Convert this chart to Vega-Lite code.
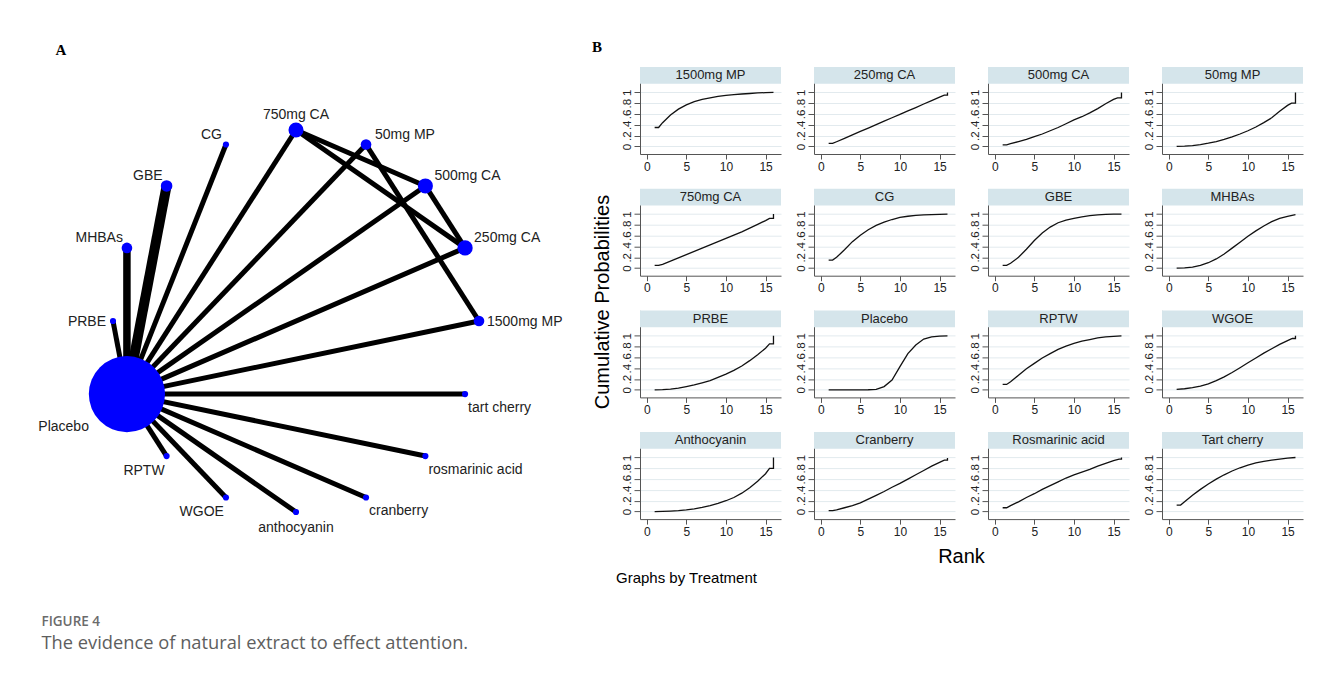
{
"$schema": "https://vega.github.io/schema/vega-lite/v6.json",
"background": "white",
"padding": {"left": 21.5, "top": 40, "right": 0, "bottom": 25},
"title": {"text": "FIGURE 4", "subtitle": "The evidence of natural extract to effect attention.", "orient": "bottom", "anchor": "start", "dx": 20, "offset": 29, "font": "Open Sans", "fontSize": 13.5, "fontWeight": 600, "color": "#6b6b6b", "subtitleFont": "Open Sans", "subtitleFontSize": 18.3, "subtitleColor": "#5e5e5e", "subtitlePadding": 6},
"datasets": {
"nodes": [
{"node":"750mg CA","x":0,"y":1,"n":78},
{"node":"50mg MP","x":0.3827,"y":0.9239,"n":39},
{"node":"500mg CA","x":0.7071,"y":0.7071,"n":78},
{"node":"250mg CA","x":0.9239,"y":0.3827,"n":80},
{"node":"1500mg MP","x":1,"y":0,"n":39},
{"node":"tart cherry","x":0.9239,"y":-0.3827,"n":13},
{"node":"rosmarinic acid","x":0.7071,"y":-0.7071,"n":13},
{"node":"cranberry","x":0.3827,"y":-0.9239,"n":13},
{"node":"anthocyanin","x":0,"y":-1,"n":13},
{"node":"WGOE","x":-0.3827,"y":-0.9239,"n":13},
{"node":"RPTW","x":-0.7071,"y":-0.7071,"n":13},
{"node":"Placebo","x":-0.9239,"y":-0.3827,"n":2000},
{"node":"PRBE","x":-1,"y":0,"n":13},
{"node":"MHBAs","x":-0.9239,"y":0.3827,"n":39},
{"node":"GBE","x":-0.7071,"y":0.7071,"n":46},
{"node":"CG","x":-0.3827,"y":0.9239,"n":13}
],
"edges": [
{"a":"Placebo","b":"PRBE","k":1},{"a":"Placebo","b":"MHBAs","k":2},{"a":"Placebo","b":"GBE","k":3},{"a":"Placebo","b":"CG","k":1},{"a":"Placebo","b":"750mg CA","k":1},{"a":"Placebo","b":"50mg MP","k":1},{"a":"Placebo","b":"500mg CA","k":1},{"a":"Placebo","b":"250mg CA","k":1},{"a":"Placebo","b":"1500mg MP","k":1},{"a":"Placebo","b":"tart cherry","k":1},{"a":"Placebo","b":"rosmarinic acid","k":1},{"a":"Placebo","b":"cranberry","k":1},{"a":"Placebo","b":"anthocyanin","k":1},{"a":"Placebo","b":"WGOE","k":1},{"a":"Placebo","b":"RPTW","k":1},{"a":"750mg CA","b":"500mg CA","k":1},{"a":"750mg CA","b":"250mg CA","k":1},{"a":"500mg CA","b":"250mg CA","k":1},{"a":"50mg MP","b":"1500mg MP","k":1}
],
"curves": [
{"t":"1500mg MP","r":1,"p":0.35},{"t":"1500mg MP","r":1.5,"p":0.35},{"t":"1500mg MP","r":2,"p":0.44},{"t":"1500mg MP","r":3,"p":0.58},{"t":"1500mg MP","r":4,"p":0.69},{"t":"1500mg MP","r":5,"p":0.77},{"t":"1500mg MP","r":6,"p":0.83},{"t":"1500mg MP","r":7,"p":0.87},{"t":"1500mg MP","r":8,"p":0.9},{"t":"1500mg MP","r":9,"p":0.925},{"t":"1500mg MP","r":10,"p":0.945},{"t":"1500mg MP","r":11,"p":0.96},{"t":"1500mg MP","r":12,"p":0.97},{"t":"1500mg MP","r":13,"p":0.98},{"t":"1500mg MP","r":14,"p":0.99},{"t":"1500mg MP","r":15,"p":0.995},{"t":"1500mg MP","r":16,"p":1},
{"t":"250mg CA","r":1,"p":0.055},{"t":"250mg CA","r":1.5,"p":0.055},{"t":"250mg CA","r":2,"p":0.087},{"t":"250mg CA","r":3,"p":0.15},{"t":"250mg CA","r":4,"p":0.214},{"t":"250mg CA","r":5,"p":0.277},{"t":"250mg CA","r":6,"p":0.34},{"t":"250mg CA","r":7,"p":0.404},{"t":"250mg CA","r":8,"p":0.468},{"t":"250mg CA","r":9,"p":0.531},{"t":"250mg CA","r":10,"p":0.595},{"t":"250mg CA","r":11,"p":0.658},{"t":"250mg CA","r":12,"p":0.72},{"t":"250mg CA","r":13,"p":0.785},{"t":"250mg CA","r":14,"p":0.849},{"t":"250mg CA","r":15,"p":0.912},{"t":"250mg CA","r":15.6,"p":0.95},{"t":"250mg CA","r":16,"p":0.95},{"t":"250mg CA","r":16,"p":1},
{"t":"500mg CA","r":1,"p":0.03},{"t":"500mg CA","r":1.5,"p":0.03},{"t":"500mg CA","r":2,"p":0.05},{"t":"500mg CA","r":3,"p":0.09},{"t":"500mg CA","r":4,"p":0.13},{"t":"500mg CA","r":5,"p":0.18},{"t":"500mg CA","r":6,"p":0.23},{"t":"500mg CA","r":7,"p":0.29},{"t":"500mg CA","r":8,"p":0.35},{"t":"500mg CA","r":9,"p":0.42},{"t":"500mg CA","r":10,"p":0.49},{"t":"500mg CA","r":11,"p":0.55},{"t":"500mg CA","r":12,"p":0.62},{"t":"500mg CA","r":13,"p":0.7},{"t":"500mg CA","r":14,"p":0.79},{"t":"500mg CA","r":15,"p":0.87},{"t":"500mg CA","r":15.5,"p":0.9},{"t":"500mg CA","r":16,"p":0.9},{"t":"500mg CA","r":16,"p":1},
{"t":"50mg MP","r":1,"p":0},{"t":"50mg MP","r":2,"p":0.005},{"t":"50mg MP","r":3,"p":0.015},{"t":"50mg MP","r":4,"p":0.035},{"t":"50mg MP","r":5,"p":0.06},{"t":"50mg MP","r":6,"p":0.09},{"t":"50mg MP","r":7,"p":0.13},{"t":"50mg MP","r":8,"p":0.175},{"t":"50mg MP","r":9,"p":0.23},{"t":"50mg MP","r":10,"p":0.29},{"t":"50mg MP","r":11,"p":0.36},{"t":"50mg MP","r":12,"p":0.44},{"t":"50mg MP","r":13,"p":0.53},{"t":"50mg MP","r":14,"p":0.65},{"t":"50mg MP","r":15,"p":0.76},{"t":"50mg MP","r":15.5,"p":0.8},{"t":"50mg MP","r":16,"p":0.8},{"t":"50mg MP","r":16,"p":1},
{"t":"750mg CA","r":1,"p":0.05},{"t":"750mg CA","r":1.5,"p":0.05},{"t":"750mg CA","r":2,"p":0.07},{"t":"750mg CA","r":3,"p":0.13},{"t":"750mg CA","r":4,"p":0.19},{"t":"750mg CA","r":5,"p":0.25},{"t":"750mg CA","r":6,"p":0.31},{"t":"750mg CA","r":7,"p":0.37},{"t":"750mg CA","r":8,"p":0.43},{"t":"750mg CA","r":9,"p":0.49},{"t":"750mg CA","r":10,"p":0.55},{"t":"750mg CA","r":11,"p":0.61},{"t":"750mg CA","r":12,"p":0.67},{"t":"750mg CA","r":13,"p":0.74},{"t":"750mg CA","r":14,"p":0.81},{"t":"750mg CA","r":15,"p":0.88},{"t":"750mg CA","r":15.5,"p":0.92},{"t":"750mg CA","r":16,"p":0.92},{"t":"750mg CA","r":16,"p":1},
{"t":"CG","r":1,"p":0.15},{"t":"CG","r":1.5,"p":0.15},{"t":"CG","r":2,"p":0.2},{"t":"CG","r":3,"p":0.34},{"t":"CG","r":4,"p":0.49},{"t":"CG","r":5,"p":0.61},{"t":"CG","r":6,"p":0.71},{"t":"CG","r":7,"p":0.79},{"t":"CG","r":8,"p":0.85},{"t":"CG","r":9,"p":0.9},{"t":"CG","r":10,"p":0.94},{"t":"CG","r":11,"p":0.96},{"t":"CG","r":12,"p":0.975},{"t":"CG","r":13,"p":0.985},{"t":"CG","r":14,"p":0.99},{"t":"CG","r":15,"p":0.995},{"t":"CG","r":16,"p":1},
{"t":"GBE","r":1,"p":0.05},{"t":"GBE","r":1.5,"p":0.05},{"t":"GBE","r":2,"p":0.09},{"t":"GBE","r":3,"p":0.2},{"t":"GBE","r":4,"p":0.35},{"t":"GBE","r":5,"p":0.51},{"t":"GBE","r":6,"p":0.65},{"t":"GBE","r":7,"p":0.76},{"t":"GBE","r":8,"p":0.84},{"t":"GBE","r":9,"p":0.89},{"t":"GBE","r":10,"p":0.92},{"t":"GBE","r":11,"p":0.95},{"t":"GBE","r":12,"p":0.97},{"t":"GBE","r":13,"p":0.985},{"t":"GBE","r":14,"p":0.995},{"t":"GBE","r":15,"p":1},{"t":"GBE","r":16,"p":1},
{"t":"MHBAs","r":1,"p":0},{"t":"MHBAs","r":2,"p":0.005},{"t":"MHBAs","r":3,"p":0.02},{"t":"MHBAs","r":4,"p":0.05},{"t":"MHBAs","r":5,"p":0.1},{"t":"MHBAs","r":6,"p":0.17},{"t":"MHBAs","r":7,"p":0.26},{"t":"MHBAs","r":8,"p":0.37},{"t":"MHBAs","r":9,"p":0.48},{"t":"MHBAs","r":10,"p":0.59},{"t":"MHBAs","r":11,"p":0.69},{"t":"MHBAs","r":12,"p":0.78},{"t":"MHBAs","r":13,"p":0.86},{"t":"MHBAs","r":14,"p":0.92},{"t":"MHBAs","r":15,"p":0.96},{"t":"MHBAs","r":16,"p":0.99},
{"t":"PRBE","r":1,"p":0},{"t":"PRBE","r":2,"p":0.005},{"t":"PRBE","r":3,"p":0.015},{"t":"PRBE","r":4,"p":0.03},{"t":"PRBE","r":5,"p":0.06},{"t":"PRBE","r":6,"p":0.09},{"t":"PRBE","r":7,"p":0.13},{"t":"PRBE","r":8,"p":0.17},{"t":"PRBE","r":9,"p":0.23},{"t":"PRBE","r":10,"p":0.29},{"t":"PRBE","r":11,"p":0.36},{"t":"PRBE","r":12,"p":0.44},{"t":"PRBE","r":13,"p":0.54},{"t":"PRBE","r":14,"p":0.65},{"t":"PRBE","r":15,"p":0.77},{"t":"PRBE","r":15.5,"p":0.85},{"t":"PRBE","r":16,"p":0.85},{"t":"PRBE","r":16,"p":1},
{"t":"Placebo","r":1,"p":0},{"t":"Placebo","r":2,"p":0},{"t":"Placebo","r":3,"p":0},{"t":"Placebo","r":4,"p":0},{"t":"Placebo","r":5,"p":0},{"t":"Placebo","r":6,"p":0.002},{"t":"Placebo","r":7,"p":0.01},{"t":"Placebo","r":8,"p":0.06},{"t":"Placebo","r":9,"p":0.18},{"t":"Placebo","r":10,"p":0.43},{"t":"Placebo","r":11,"p":0.67},{"t":"Placebo","r":12,"p":0.83},{"t":"Placebo","r":13,"p":0.94},{"t":"Placebo","r":14,"p":0.98},{"t":"Placebo","r":15,"p":0.995},{"t":"Placebo","r":16,"p":1},
{"t":"RPTW","r":1,"p":0.1},{"t":"RPTW","r":1.5,"p":0.1},{"t":"RPTW","r":2,"p":0.15},{"t":"RPTW","r":3,"p":0.27},{"t":"RPTW","r":4,"p":0.39},{"t":"RPTW","r":5,"p":0.49},{"t":"RPTW","r":6,"p":0.59},{"t":"RPTW","r":7,"p":0.67},{"t":"RPTW","r":8,"p":0.75},{"t":"RPTW","r":9,"p":0.81},{"t":"RPTW","r":10,"p":0.86},{"t":"RPTW","r":11,"p":0.9},{"t":"RPTW","r":12,"p":0.93},{"t":"RPTW","r":13,"p":0.96},{"t":"RPTW","r":14,"p":0.98},{"t":"RPTW","r":15,"p":0.99},{"t":"RPTW","r":16,"p":1},
{"t":"WGOE","r":1,"p":0.01},{"t":"WGOE","r":2,"p":0.02},{"t":"WGOE","r":3,"p":0.04},{"t":"WGOE","r":4,"p":0.07},{"t":"WGOE","r":5,"p":0.11},{"t":"WGOE","r":6,"p":0.17},{"t":"WGOE","r":7,"p":0.24},{"t":"WGOE","r":8,"p":0.32},{"t":"WGOE","r":9,"p":0.41},{"t":"WGOE","r":10,"p":0.5},{"t":"WGOE","r":11,"p":0.59},{"t":"WGOE","r":12,"p":0.68},{"t":"WGOE","r":13,"p":0.76},{"t":"WGOE","r":14,"p":0.84},{"t":"WGOE","r":15,"p":0.91},{"t":"WGOE","r":15.6,"p":0.95},{"t":"WGOE","r":16,"p":0.95},{"t":"WGOE","r":16,"p":1},
{"t":"Anthocyanin","r":1,"p":0},{"t":"Anthocyanin","r":2,"p":0.002},{"t":"Anthocyanin","r":3,"p":0.007},{"t":"Anthocyanin","r":4,"p":0.015},{"t":"Anthocyanin","r":5,"p":0.03},{"t":"Anthocyanin","r":6,"p":0.05},{"t":"Anthocyanin","r":7,"p":0.075},{"t":"Anthocyanin","r":8,"p":0.11},{"t":"Anthocyanin","r":9,"p":0.15},{"t":"Anthocyanin","r":10,"p":0.2},{"t":"Anthocyanin","r":11,"p":0.26},{"t":"Anthocyanin","r":12,"p":0.34},{"t":"Anthocyanin","r":13,"p":0.44},{"t":"Anthocyanin","r":14,"p":0.56},{"t":"Anthocyanin","r":15,"p":0.7},{"t":"Anthocyanin","r":15.5,"p":0.8},{"t":"Anthocyanin","r":16,"p":0.8},{"t":"Anthocyanin","r":16,"p":1},
{"t":"Cranberry","r":1,"p":0.015},{"t":"Cranberry","r":1.5,"p":0.015},{"t":"Cranberry","r":2,"p":0.03},{"t":"Cranberry","r":3,"p":0.07},{"t":"Cranberry","r":4,"p":0.11},{"t":"Cranberry","r":5,"p":0.16},{"t":"Cranberry","r":6,"p":0.23},{"t":"Cranberry","r":7,"p":0.3},{"t":"Cranberry","r":8,"p":0.37},{"t":"Cranberry","r":9,"p":0.45},{"t":"Cranberry","r":10,"p":0.52},{"t":"Cranberry","r":11,"p":0.6},{"t":"Cranberry","r":12,"p":0.68},{"t":"Cranberry","r":13,"p":0.76},{"t":"Cranberry","r":14,"p":0.84},{"t":"Cranberry","r":15,"p":0.91},{"t":"Cranberry","r":15.6,"p":0.95},{"t":"Cranberry","r":16,"p":0.95},{"t":"Cranberry","r":16,"p":0.99},
{"t":"Rosmarinic acid","r":1,"p":0.07},{"t":"Rosmarinic acid","r":1.5,"p":0.07},{"t":"Rosmarinic acid","r":2,"p":0.11},{"t":"Rosmarinic acid","r":3,"p":0.18},{"t":"Rosmarinic acid","r":4,"p":0.26},{"t":"Rosmarinic acid","r":5,"p":0.33},{"t":"Rosmarinic acid","r":6,"p":0.41},{"t":"Rosmarinic acid","r":7,"p":0.48},{"t":"Rosmarinic acid","r":8,"p":0.55},{"t":"Rosmarinic acid","r":9,"p":0.62},{"t":"Rosmarinic acid","r":10,"p":0.68},{"t":"Rosmarinic acid","r":11,"p":0.73},{"t":"Rosmarinic acid","r":12,"p":0.78},{"t":"Rosmarinic acid","r":13,"p":0.84},{"t":"Rosmarinic acid","r":14,"p":0.89},{"t":"Rosmarinic acid","r":15,"p":0.94},{"t":"Rosmarinic acid","r":15.7,"p":0.97},{"t":"Rosmarinic acid","r":16,"p":0.97},{"t":"Rosmarinic acid","r":16,"p":1},
{"t":"Tart cherry","r":1,"p":0.12},{"t":"Tart cherry","r":1.5,"p":0.12},{"t":"Tart cherry","r":2,"p":0.18},{"t":"Tart cherry","r":3,"p":0.3},{"t":"Tart cherry","r":4,"p":0.41},{"t":"Tart cherry","r":5,"p":0.51},{"t":"Tart cherry","r":6,"p":0.6},{"t":"Tart cherry","r":7,"p":0.68},{"t":"Tart cherry","r":8,"p":0.75},{"t":"Tart cherry","r":9,"p":0.81},{"t":"Tart cherry","r":10,"p":0.86},{"t":"Tart cherry","r":11,"p":0.9},{"t":"Tart cherry","r":12,"p":0.93},{"t":"Tart cherry","r":13,"p":0.95},{"t":"Tart cherry","r":14,"p":0.97},{"t":"Tart cherry","r":15,"p":0.99},{"t":"Tart cherry","r":16,"p":1}
]
},
"spacing": 20.5,
"hconcat": [
{
"title": {"text": "A", "anchor": "start", "font": "Liberation Serif", "fontWeight": "bold", "fontSize": 15, "color": "#000", "offset": 9.2, "dx": 34},
"width": 549, "height": 483.2,
"layer": [
{"data": {"name": "edges"},
 "transform": [
  {"lookup": "a", "from": {"data": {"name": "nodes"}, "key": "node", "fields": ["x", "y"]}, "as": ["ax", "ay"]},
  {"lookup": "b", "from": {"data": {"name": "nodes"}, "key": "node", "fields": ["x", "y"]}, "as": ["bx", "by"]}
 ],
 "mark": {"type": "rule", "color": "#000000", "strokeCap": "butt"},
 "encoding": {
  "x": {"field": "ax", "type": "quantitative", "scale": {"domain": [-1.5, 1.5], "nice": false, "zero": false}, "axis": null},
  "y": {"field": "ay", "type": "quantitative", "scale": {"domain": [-1.2, 1.3298], "nice": false, "zero": false}, "axis": null},
  "x2": {"field": "bx"}, "y2": {"field": "by"},
  "strokeWidth": {"field": "k", "type": "quantitative", "scale": {"domain": [1, 3], "range": [5, 10], "zero": false}, "legend": null}
 }},
{"data": {"name": "nodes"},
 "mark": {"type": "circle", "color": "#0000ff", "opacity": 1},
 "encoding": {
  "x": {"field": "x", "type": "quantitative", "scale": {"domain": [-1.5, 1.5], "nice": false, "zero": false}, "axis": null},
  "y": {"field": "y", "type": "quantitative", "scale": {"domain": [-1.2, 1.3298], "nice": false, "zero": false}, "axis": null},
  "size": {"field": "n", "type": "quantitative", "scale": {"domain": [0, 2000], "range": [0, 5809]}, "legend": null}
 }},
{"data": {"name": "nodes"}, "transform": [{"filter": "datum.y > 0.99"}],
 "mark": {"type": "text", "font": "Liberation Sans", "fontSize": 14, "color": "#222", "align": "center", "baseline": "middle", "dy": -15},
 "encoding": {"x": {"field": "x", "type": "quantitative", "scale": {"domain": [-1.5, 1.5], "nice": false, "zero": false}, "axis": null}, "y": {"field": "y", "type": "quantitative", "scale": {"domain": [-1.2, 1.3298], "nice": false, "zero": false}, "axis": null}, "text": {"field": "node"}}},
{"data": {"name": "nodes"}, "transform": [{"filter": "datum.x > 0.3 && datum.y > 0.3"}],
 "mark": {"type": "text", "font": "Liberation Sans", "fontSize": 14, "color": "#222", "align": "left", "baseline": "middle", "dx": 9, "dy": -10},
 "encoding": {"x": {"field": "x", "type": "quantitative", "scale": {"domain": [-1.5, 1.5], "nice": false, "zero": false}, "axis": null}, "y": {"field": "y", "type": "quantitative", "scale": {"domain": [-1.2, 1.3298], "nice": false, "zero": false}, "axis": null}, "text": {"field": "node"}}},
{"data": {"name": "nodes"}, "transform": [{"filter": "datum.x > 0.99"}],
 "mark": {"type": "text", "font": "Liberation Sans", "fontSize": 14, "color": "#222", "align": "left", "baseline": "middle", "dx": 8, "dy": 1},
 "encoding": {"x": {"field": "x", "type": "quantitative", "scale": {"domain": [-1.5, 1.5], "nice": false, "zero": false}, "axis": null}, "y": {"field": "y", "type": "quantitative", "scale": {"domain": [-1.2, 1.3298], "nice": false, "zero": false}, "axis": null}, "text": {"field": "node"}}},
{"data": {"name": "nodes"}, "transform": [{"filter": "datum.x > 0.3 && datum.y < -0.3"}],
 "mark": {"type": "text", "font": "Liberation Sans", "fontSize": 14, "color": "#222", "align": "left", "baseline": "middle", "dx": 3, "dy": 14},
 "encoding": {"x": {"field": "x", "type": "quantitative", "scale": {"domain": [-1.5, 1.5], "nice": false, "zero": false}, "axis": null}, "y": {"field": "y", "type": "quantitative", "scale": {"domain": [-1.2, 1.3298], "nice": false, "zero": false}, "axis": null}, "text": {"field": "node"}}},
{"data": {"name": "nodes"}, "transform": [{"filter": "datum.y < -0.99"}],
 "mark": {"type": "text", "font": "Liberation Sans", "fontSize": 14, "color": "#222", "align": "center", "baseline": "middle", "dy": 16},
 "encoding": {"x": {"field": "x", "type": "quantitative", "scale": {"domain": [-1.5, 1.5], "nice": false, "zero": false}, "axis": null}, "y": {"field": "y", "type": "quantitative", "scale": {"domain": [-1.2, 1.3298], "nice": false, "zero": false}, "axis": null}, "text": {"field": "node"}}},
{"data": {"name": "nodes"}, "transform": [{"filter": "datum.x < -0.3 && datum.y < -0.3 && datum.node != 'Placebo'"}],
 "mark": {"type": "text", "font": "Liberation Sans", "fontSize": 14, "color": "#222", "align": "right", "baseline": "middle", "dx": -2, "dy": 15},
 "encoding": {"x": {"field": "x", "type": "quantitative", "scale": {"domain": [-1.5, 1.5], "nice": false, "zero": false}, "axis": null}, "y": {"field": "y", "type": "quantitative", "scale": {"domain": [-1.2, 1.3298], "nice": false, "zero": false}, "axis": null}, "text": {"field": "node"}}},
{"data": {"name": "nodes"}, "transform": [{"filter": "datum.node == 'Placebo'"}],
 "mark": {"type": "text", "font": "Liberation Sans", "fontSize": 14, "color": "#222", "align": "right", "baseline": "middle", "dx": -38, "dy": 33},
 "encoding": {"x": {"field": "x", "type": "quantitative", "scale": {"domain": [-1.5, 1.5], "nice": false, "zero": false}, "axis": null}, "y": {"field": "y", "type": "quantitative", "scale": {"domain": [-1.2, 1.3298], "nice": false, "zero": false}, "axis": null}, "text": {"field": "node"}}},
{"data": {"name": "nodes"}, "transform": [{"filter": "datum.x < -0.99"}],
 "mark": {"type": "text", "font": "Liberation Sans", "fontSize": 14, "color": "#222", "align": "right", "baseline": "middle", "dx": -7, "dy": 1},
 "encoding": {"x": {"field": "x", "type": "quantitative", "scale": {"domain": [-1.5, 1.5], "nice": false, "zero": false}, "axis": null}, "y": {"field": "y", "type": "quantitative", "scale": {"domain": [-1.2, 1.3298], "nice": false, "zero": false}, "axis": null}, "text": {"field": "node"}}},
{"data": {"name": "nodes"}, "transform": [{"filter": "datum.x < -0.3 && datum.y > 0.3"}],
 "mark": {"type": "text", "font": "Liberation Sans", "fontSize": 14, "color": "#222", "align": "right", "baseline": "middle", "dx": -4, "dy": -10},
 "encoding": {"x": {"field": "x", "type": "quantitative", "scale": {"domain": [-1.5, 1.5], "nice": false, "zero": false}, "axis": null}, "y": {"field": "y", "type": "quantitative", "scale": {"domain": [-1.2, 1.3298], "nice": false, "zero": false}, "axis": null}, "text": {"field": "node"}}}
]
},
{
"title": {"text": "B", "anchor": "start", "font": "Liberation Serif", "fontWeight": "bold", "fontSize": 15, "color": "#000", "offset": 12, "dx": -1},
"vconcat": [
{
"title": {"text": "Graphs by Treatment", "orient": "bottom", "anchor": "start", "font": "Liberation Sans", "fontWeight": "normal", "fontSize": 15, "color": "#000", "offset": 4, "dx": 23},
"vconcat": [
{
"title": {"text": "Rank", "orient": "bottom", "anchor": "middle", "font": "Liberation Sans", "fontWeight": "normal", "fontSize": 20, "color": "#000", "offset": 10, "dx": 13.5},
"vconcat": [
{
"title": {"text": "Cumulative Probabilities", "orient": "left", "anchor": "middle", "font": "Liberation Sans", "fontWeight": "normal", "fontSize": 20, "color": "#000", "offset": 8},
"data": {"name": "curves"},
"facet": {"field": "t", "type": "nominal", "sort": ["1500mg MP","250mg CA","500mg CA","50mg MP","750mg CA","CG","GBE","MHBAs","PRBE","Placebo","RPTW","WGOE","Anthocyanin","Cranberry","Rosmarinic acid","Tart cherry"], "header": {"labels": false, "title": null, "labelExpr": "''", "labelFontSize": 0, "labelPadding": 0, "titlePadding": 0}},
"columns": 4,
"spacing": {"row": 16.7, "column": 13},
"resolve": {"axis": {"x": "independent", "y": "independent"}},
"spec": {
"width": 141, "height": 87,
"layer": [
{"transform": [{"filter": "datum.r == 1"}],
 "mark": {"type": "rect", "color": "#D5E5EB"},
 "encoding": {
  "y": {"datum": 1.16, "type": "quantitative", "scale": {"domain": [-0.14, 1.47], "nice": false, "zero": false}, "axis": {"title": null, "values": [0, 0.2, 0.4, 0.6, 0.8, 1], "labelExpr": "datum.value == 0 ? '0' : datum.value == 1 ? '1' : replace(format(datum.value, '.1f'), '0.', '.')", "labelAngle": 270, "labelAlign": "center", "labelBaseline": "bottom", "labelFontSize": 11.5, "labelFont": "Liberation Sans", "labelColor": "#222", "labelPadding": 2, "labelOverlap": false, "tickSize": 6, "tickColor": "#555", "domainColor": "#555", "grid": true, "gridColor": "#E2EAEE"}},
  "y2": {"datum": 1.47}
 }},
{"transform": [{"filter": "datum.r == 1"}],
 "mark": {"type": "text", "font": "Liberation Sans", "fontSize": 13, "color": "#222", "align": "center", "baseline": "middle"},
 "encoding": {
  "y": {"datum": 1.315, "type": "quantitative", "scale": {"domain": [-0.14, 1.47], "nice": false, "zero": false}, "axis": {"title": null, "values": [0, 0.2, 0.4, 0.6, 0.8, 1], "labelExpr": "datum.value == 0 ? '0' : datum.value == 1 ? '1' : replace(format(datum.value, '.1f'), '0.', '.')", "labelAngle": 270, "labelAlign": "center", "labelBaseline": "bottom", "labelFontSize": 11.5, "labelFont": "Liberation Sans", "labelColor": "#222", "labelPadding": 2, "labelOverlap": false, "tickSize": 6, "tickColor": "#555", "domainColor": "#555", "grid": true, "gridColor": "#E2EAEE"}},
  "text": {"field": "t"}
 }},
{"mark": {"type": "line", "color": "#111", "strokeWidth": 1.3},
 "encoding": {
  "x": {"field": "r", "type": "quantitative", "scale": {"domain": [-0.85, 16.95], "nice": false, "zero": false}, "axis": {"title": null, "values": [0, 5, 10, 15], "grid": false, "tickSize": 5, "labelPadding": 2, "labelFontSize": 12, "labelFont": "Liberation Sans", "labelColor": "#222", "tickColor": "#555", "domainColor": "#555"}},
  "y": {"field": "p", "type": "quantitative", "scale": {"domain": [-0.14, 1.47], "nice": false, "zero": false}, "axis": {"title": null, "values": [0, 0.2, 0.4, 0.6, 0.8, 1], "labelExpr": "datum.value == 0 ? '0' : datum.value == 1 ? '1' : replace(format(datum.value, '.1f'), '0.', '.')", "labelAngle": 270, "labelAlign": "center", "labelBaseline": "bottom", "labelFontSize": 11.5, "labelFont": "Liberation Sans", "labelColor": "#222", "labelPadding": 2, "labelOverlap": false, "tickSize": 6, "tickColor": "#555", "domainColor": "#555", "grid": true, "gridColor": "#E2EAEE"}},
  "order": [{"field": "r", "type": "quantitative"}, {"field": "p", "type": "quantitative"}]
 }}
]
}
}
]
}
]
}
]
}
],
"config": {"view": {"stroke": null}, "font": "Liberation Sans", "header": {"labels": false, "title": null}, "headerFacet": {"labels": false, "title": null, "labelPadding": 0}}
}
